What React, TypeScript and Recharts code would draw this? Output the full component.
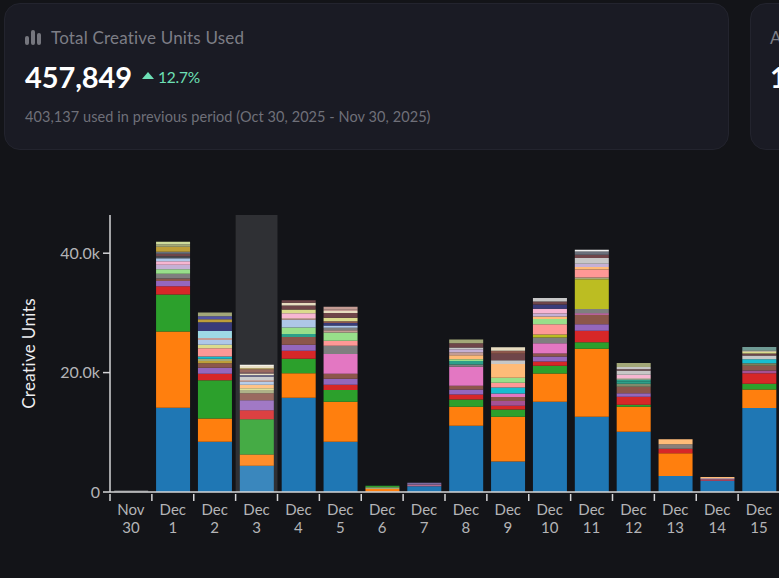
import { Bar, BarChart, Cell, ReferenceArea, XAxis, YAxis } from "recharts";

const FONT = "Lato, sans-serif";

const categories = ["Nov 30", "Dec 1", "Dec 2", "Dec 3", "Dec 4", "Dec 5", "Dec 6", "Dec 7", "Dec 8", "Dec 9", "Dec 10", "Dec 11", "Dec 12", "Dec 13", "Dec 14", "Dec 15"];
const activeDay = "Dec 3";
const yTicks = [0, 20000, 40000];

// tab20 plus a few of the extra shades the thin top bands use
const blue = "#1f77b4", orange = "#ff7f0e", green = "#2ca02c", red = "#d62728", purple = "#9467bd", brown = "#8c564b";
const pink = "#e377c2", gray = "#7f7f7f", olive = "#bcbd22", cyan = "#17becf", lblue = "#aec7e8", lorange = "#ffbb78";
const lgreen = "#98df8a", lred = "#ff9896", lpurple = "#c5b0d5", lbrown = "#c49c94", lpink = "#f7b6d2", lgray = "#c7c7c7";
const lolive = "#dbdb8d", lcyan = "#9edae5", navy = "#393b79", indigo = "#5254a3", tan = "#bd9e39", sage = "#a3a878";
const wine = "#6f4549", teal = "#2ca089", cream = "#e7dcc0", steel = "#6a6f7a", plum = "#a55194", pale = "#cedb9c";

const nov30 = [280];
const dec1 = [14100, 12800, 6200, 1350, 900, 400, 800, 750, 750, 600, 500, 350, 400, 350, 850, 400, 400];
const dec2 = [8400, 3900, 6400, 1100, 1000, 750, 400, 350, 400, 1400, 550, 800, 350, 1150, 1500, 500, 500, 600];
const dec3 = [4400, 1900, 5900, 1500, 1650, 1200, 550, 300, 550, 500, 300, 600, 200, 300, 250, 450, 200, 350, 200];
const dec4 = [15800, 4100, 2400, 1350, 1000, 1300, 500, 500, 600, 1300, 300, 800, 600, 700, 450, 400];
const dec5 = [8400, 6700, 2000, 850, 1000, 850, 3300, 1400, 850, 1350, 400, 400, 400, 400, 300, 600, 800, 300, 300, 450];
const dec6 = [50, 450, 300, 250];
const dec7 = [950, 300, 300];
const dec8 = [11100, 3200, 1200, 850, 800, 650, 3200, 350, 600, 300, 650, 500, 500, 300, 700, 650];
const dec9 = [5100, 7500, 1200, 650, 800, 650, 600, 1000, 800, 850, 2300, 600, 1100, 500, 600];
const dec10 = [15100, 4750, 1300, 700, 850, 500, 1700, 1000, 500, 1700, 900, 400, 500, 800, 700, 500, 600];
const dec11 = [12600, 11400, 1100, 1900, 1100, 1600, 250, 700, 5000, 300, 1300, 450, 550, 950, 550, 550, 300];
const dec12 = [10100, 4200, 300, 1350, 600, 1100, 500, 400, 300, 200, 600, 700, 200, 400, 500, 150];
const dec13 = [2700, 3800, 750, 750, 850];
const dec14 = [1850, 300, 150, 200];
const dec15 = [14050, 3100, 1000, 1750, 450, 800, 400, 700, 600, 350, 300, 200, 600];

const dayValues = [nov30, dec1, dec2, dec3, dec4, dec5, dec6, dec7, dec8, dec9, dec10, dec11, dec12, dec13, dec14, dec15];

const dayColors = [
  ["#55565a"],
  [blue, orange, green, red, purple, brown, gray, lgreen, lpurple, lpink, lblue, "#474b52", wine, steel, tan, sage, pale],
  [blue, orange, green, red, purple, brown, tan, sage, cyan, lred, lolive, lblue, lbrown, lcyan, navy, tan, indigo, sage],
  [blue, orange, green, red, purple, brown, sage, lolive, lorange, lblue, lbrown, lgray, navy, cream, wine, brown, tan, cream, "#f4efe4"],
  [blue, orange, green, red, purple, brown, teal, lgreen, lgreen, lblue, lbrown, lpink, lolive, wine, cream, wine],
  [blue, orange, green, red, purple, brown, pink, gray, lred, lgreen, lbrown, gray, lblue, navy, brown, lolive, wine, cream, lbrown, lbrown],
  [blue, orange, sage, green],
  [blue, "#b56a8c", "#7b6ba0"],
  [blue, orange, green, red, purple, brown, pink, gray, teal, lgreen, lorange, lbrown, lpurple, lgray, wine, sage],
  [blue, orange, green, red, plum, brown, pink, cyan, lred, lgreen, lorange, lgray, wine, brown, cream],
  [blue, orange, green, red, purple, brown, pink, gray, olive, lred, lgreen, lorange, lpurple, lpink, navy, wine, lgray],
  [blue, orange, green, red, purple, brown, pink, gray, olive, sage, lred, lorange, lpurple, lgray, wine, steel, "#eeeeee"],
  [blue, orange, green, red, purple, brown, "#7f8a6a", teal, teal, cream, lpink, lgray, wine, lgray, sage, sage],
  [blue, orange, red, "#8a7f7a", lorange],
  [blue, "#a0405a", lpurple, lorange],
  [blue, orange, green, red, plum, brown, "#7f7f5a", cyan, lgray, wine, lolive, cream, "#6f9a94"],
];

const layerCount = Math.max(...dayValues.map((v) => v.length));
const layerKeys = Array.from({ length: layerCount }, (_, i) => `layer${i}`);

const chartData = categories.map((day, d) => {
  const row: Record<string, string | number> = { day };
  dayValues[d].forEach((v, i) => {
    row[layerKeys[i]] = v;
  });
  return row;
});

const PLOT_LEFT = 110;
const PLOT_WIDTH = 670;
const HALF_BAND = PLOT_WIDTH / categories.length / 2;
const AXIS = "#d4d4d6";

function DayTick({ x, y, payload }: any) {
  const [month, date] = String(payload.value).split(" ");
  return (
    <g>
      <line x1={x - HALF_BAND} x2={x - HALF_BAND} y1={y - 8} y2={y - 1} stroke={AXIS} strokeWidth={1.5} />
      <text x={x} y={y + 13} textAnchor="middle" fontSize={15} fontFamily={FONT} fill="#b4b4b7">
        <tspan x={x}>{month}</tspan>
        <tspan x={x} dy={18}>{date}</tspan>
      </text>
    </g>
  );
}

function StatCard({ left, width, children }: any) {
  return (
    <div
      style={{
        position: "absolute",
        left,
        top: 3,
        width,
        height: 147,
        boxSizing: "border-box",
        background: "#1a1b24",
        border: "1px solid #23242e",
        borderRadius: 16,
        fontFamily: FONT,
      }}
    >
      {children}
    </div>
  );
}

function abs(left: number, top: number, extra: any) {
  return { position: "absolute", left, top, whiteSpace: "nowrap", ...extra } as any;
}

export default function App() {
  return (
    <div style={{ position: "absolute", left: 0, top: 0, width: 779, height: 578, overflow: "hidden", background: "#131418" }}>
      <StatCard left={4} width={725}>
        <svg style={{ position: "absolute", left: 20, top: 25 }} width={17} height={17}>
          <rect x={0} y={7} width={4} height={9} rx={2} fill="#75767e" />
          <rect x={6} y={1} width={4} height={15} rx={2} fill="#75767e" />
          <rect x={12} y={4} width={4} height={12} rx={2} fill="#75767e" />
        </svg>
        <div style={abs(46, 24, { fontSize: 17, lineHeight: "20px", color: "#7d7e86", letterSpacing: 0.19 })}>Total Creative Units Used</div>
        <div style={abs(20, 55, { fontSize: 29, lineHeight: "36px", fontWeight: 700, color: "#ffffff", letterSpacing: -0.1 })}>457,849</div>
        <svg style={{ position: "absolute", left: 137, top: 68 }} width={13} height={8}>
          <polygon points="6,0 12,7 0,7" fill="#6ee0b6" />
        </svg>
        <div style={abs(153, 63, { fontSize: 15.5, lineHeight: "20px", color: "#6ee0b6", letterSpacing: -0.2 })}>12.7%</div>
        <div style={abs(20, 103, { fontSize: 14.5, lineHeight: "20px", color: "#6f7079", letterSpacing: 0.07 })}>
          403,137 used in previous period (Oct 30, 2025 - Nov 30, 2025)
        </div>
      </StatCard>
      <StatCard left={750} width={200}>
        <div style={abs(19, 24, { fontSize: 17, lineHeight: "20px", color: "#7d7e86" })}>A</div>
        <div style={abs(19, 55, { fontSize: 29, lineHeight: "36px", fontWeight: 700, color: "#ffffff" })}>1</div>
      </StatCard>

      <div style={{ position: "absolute", left: 0, top: 200 }}>
        <BarChart
          width={PLOT_LEFT + PLOT_WIDTH + 10}
          height={371}
          data={chartData}
          margin={{ top: 15, right: 10, bottom: 0, left: 0 }}
          barCategoryGap="10%"
        >
          <XAxis
            dataKey="day"
            height={79}
            interval={0}
            tickLine={false}
            tickSize={8}
            tick={<DayTick />}
            axisLine={{ stroke: AXIS, strokeWidth: 1.5 }}
          />
          <YAxis
            width={PLOT_LEFT}
            domain={[0, 46400]}
            ticks={yTicks}
            tickSize={7}
            tickMargin={3}
            axisLine={{ stroke: AXIS, strokeWidth: 1.5 }}
            tickLine={{ stroke: AXIS, strokeWidth: 1.5 }}
            tick={{ fontSize: 16, fontFamily: FONT, fill: "#b4b4b7" }}
            tickFormatter={(v: number) => (v === 0 ? "0" : `${(v / 1000).toFixed(1)}k`)}
            label={{
              value: "Creative Units",
              angle: -90,
              position: "insideLeft",
              offset: 29,
              style: { textAnchor: "middle", fontSize: 17, letterSpacing: 0.35, fontFamily: FONT, fill: "#eeeef0" },
            }}
          />
          {layerKeys.map((key, layer) => (
            <Bar key={key} dataKey={key} stackId="units" isAnimationActive={false}>
              {categories.map((_, d) => (
                <Cell key={d} fill={dayColors[d][layer] ?? "transparent"} />
              ))}
            </Bar>
          ))}
          <ReferenceArea x1={activeDay} x2={activeDay} fill="#ffffff" fillOpacity={0.12} stroke="none" zIndex={900} />
        </BarChart>
      </div>
    </div>
  );
}
